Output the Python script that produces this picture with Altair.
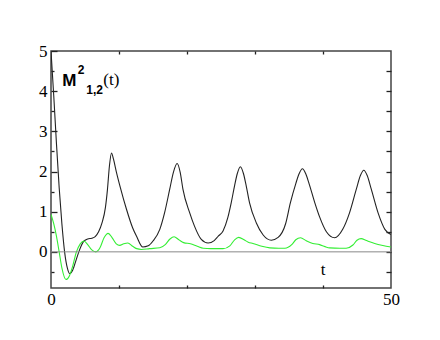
import altair as alt
import pandas as pd

# ---- data ----
t_black = [0, 0.4, 0.8, 1.2, 1.6, 2.0, 2.4, 2.75, 3.2, 3.7, 4.2, 4.8, 5.4, 6.0, 6.5, 7.0,
           7.5, 8.0, 8.3, 8.6, 8.9, 9.2, 9.6, 10.2, 11.1, 12.0, 12.6, 13.5, 14.3, 15.0,
           16.0, 16.7, 17.46, 18.0, 18.54, 19.0, 19.4, 20.4, 21.1, 22.1, 23.1, 24.0, 24.6,
           25.3, 26.0, 26.5, 27.0, 27.4, 27.85, 28.3, 28.7, 29.2, 30.2, 31.2, 32.4, 33.4,
           34.5, 35.2, 36.0, 36.5, 36.97, 37.45, 37.95, 38.8, 39.5, 40.5, 41.7, 42.9, 43.9,
           44.9, 45.5, 46.0, 46.5, 47.1, 48.1, 49.1, 50]
v_black = [5.0, 3.9, 2.7, 1.6, 0.7, 0.0, -0.4, -0.54, -0.45, -0.2, 0.05, 0.26, 0.32, 0.34,
           0.38, 0.5, 0.72, 1.1, 1.55, 2.15, 2.46, 2.3, 2.0, 1.6, 1.06, 0.6, 0.38, 0.12,
           0.15, 0.27, 0.56, 0.97, 1.56, 1.98, 2.2, 1.98, 1.56, 0.97, 0.64, 0.31, 0.22, 0.28,
           0.39, 0.52, 0.85, 1.22, 1.65, 1.95, 2.12, 1.95, 1.65, 1.22, 0.72, 0.42, 0.29, 0.36,
           0.7, 1.22, 1.7, 1.95, 2.07, 1.95, 1.7, 1.22, 0.87, 0.5, 0.35, 0.56, 0.97, 1.56,
           1.9, 2.03, 1.9, 1.56, 0.97, 0.56, 0.43]

t_green = [0, 0.4, 0.8, 1.2, 1.6, 2.2, 2.7, 3.2, 3.7, 4.3, 4.85, 5.4, 6.0, 6.6, 7.2, 7.8,
           8.4, 9.0, 9.6, 10.1, 10.7, 11.3, 12.0, 12.6, 13.3, 14.5, 16.0, 16.8, 17.5, 18.1,
           18.8, 19.5, 20.5, 21.5, 22.4, 23.5, 25.3, 26.3, 27.0, 27.6, 28.4, 29.0, 29.7,
           31.0, 32.2, 33.5, 34.4, 35.4, 36.0, 36.7, 37.5, 38.5, 39.5, 40.3, 41.0, 42.5,
           43.4, 44.4, 45.0, 45.6, 46.4, 47.6, 48.8, 50]
v_green = [0.93, 0.7, 0.39, 0.0, -0.4, -0.69, -0.6, -0.35, -0.02, 0.2, 0.27, 0.18, 0.05,
           0.0, 0.1, 0.35, 0.46, 0.35, 0.2, 0.16, 0.2, 0.22, 0.14, 0.08, 0.06, 0.08, 0.1,
           0.18, 0.32, 0.375, 0.3, 0.23, 0.2, 0.14, 0.09, 0.08, 0.08, 0.15, 0.3, 0.36, 0.3,
           0.24, 0.21, 0.14, 0.1, 0.09, 0.09, 0.18, 0.3, 0.35, 0.28, 0.21, 0.18, 0.13, 0.1,
           0.09, 0.09, 0.17, 0.29, 0.33, 0.28, 0.21, 0.16, 0.12]

x_label_values = [0, 50]
x_tick_values = [10, 20, 30, 40]
y_label_values = [0, 1, 2, 3, 4, 5]
y_minor_values = [-0.5, 0.5, 1.5, 2.5, 3.5, 4.5]
y_right_values = [-0.5, 0, 0.5, 1, 1.5, 2, 2.5, 3, 3.5, 4, 4.5]

W, H = 340, 237
SERIF = "Liberation Serif"
SANS = "Liberation Sans"
xs = alt.Scale(domain=[0, 50], nice=False, zero=False)
ys = alt.Scale(domain=[-0.9, 5], nice=False, zero=False)

df_b = pd.DataFrame({"t": t_black, "v": v_black})
df_g = pd.DataFrame({"t": t_green, "v": v_green})
df_z = pd.DataFrame({"t": [0, 50], "v": [0, 0]})


def tick_axis(orient, values, size, offset):
    return alt.Axis(orient=orient, values=values, tickSize=size, offset=offset,
                    labels=False, domain=False, grid=False, title=None,
                    tickColor="#222", tickWidth=1.3)


black = alt.Chart(df_b).mark_line(color="#222", strokeWidth=1.1, interpolate="monotone",
                                  clip=True).encode(
    x=alt.X("t:Q", scale=xs,
            axis=alt.Axis(orient="bottom", values=x_label_values, ticks=False, domain=False,
                          grid=False, title=None, labelFont=SERIF, labelFontSize=17,
                          labelColor="black", labelPadding=3, labelFlush=False)),
    y=alt.Y("v:Q", scale=ys,
            axis=alt.Axis(orient="left", values=y_label_values, ticks=False, domain=False,
                          grid=False, title=None, labelFont=SERIF, labelFontSize=17,
                          labelColor="black", labelPadding=4)),
)

green = alt.Chart(df_g).mark_line(color="#33ee33", strokeWidth=1.1, interpolate="monotone",
                                  clip=True).encode(
    x=alt.X("t:Q", scale=xs, axis=tick_axis("bottom", x_tick_values, 3, -H)),
    y=alt.Y("v:Q", scale=ys, axis=tick_axis("right", y_label_values, 6, -W)),
)

zero = alt.Chart(df_z).mark_line(color="#888", strokeWidth=1).encode(
    x=alt.X("t:Q", scale=xs, axis=tick_axis("top", x_tick_values, 3, -H)),
    y=alt.Y("v:Q", scale=ys, axis=tick_axis("right", y_minor_values, 3, -W)),
)

t_label = alt.Chart(pd.DataFrame({"a": [0]})).mark_text(
    text="t", font=SERIF, fontSize=17, color="black", align="center", baseline="alphabetic"
).encode(
    x=alt.XDatum(40, scale=xs, axis=None),
    y=alt.YDatum(-0.57, scale=ys, axis=tick_axis("left", y_right_values, 5, -W)),
)


def txt(s, tx, ty, font, size, weight="normal"):
    return alt.Chart(pd.DataFrame({"a": [0]})).mark_text(
        text=s, font=font, fontSize=size, fontWeight=weight, color="black",
        align="left", baseline="alphabetic"
    ).encode(x=alt.XDatum(tx, scale=xs, axis=None), y=alt.YDatum(ty, scale=ys, axis=None))


title_parts = [
    txt("M", 1.65, 4.13, SANS, 17, "bold"),
    txt("2", 3.95, 4.43, SANS, 12, "bold"),
    txt("1,2", 5.2, 3.93, SANS, 12, "bold"),
    txt("(t)", 7.7, 4.15, SERIF, 17),
]

chart = alt.layer(black, green, zero, t_label, *title_parts).resolve_axis(
    x="independent", y="independent"
).properties(
    width=W, height=H,
    autosize=alt.AutoSizeParams(type="none"),
    padding={"left": 43, "top": 43, "right": 20, "bottom": 40},
).configure_view(stroke="#444", strokeWidth=1.5)

chart.save("out.html", embed_options={"renderer": "svg", "actions": False})
